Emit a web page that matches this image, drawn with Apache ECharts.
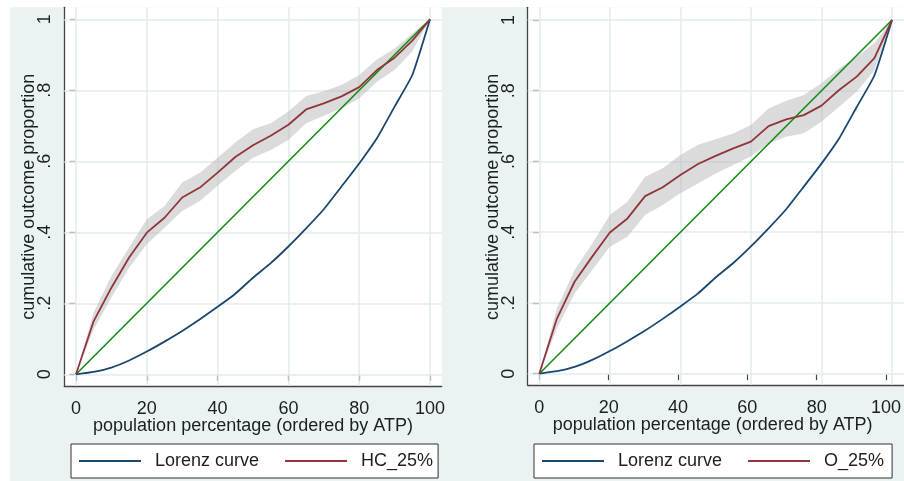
<!DOCTYPE html>
<html>
<head>
<meta charset="utf-8">
<script src="https://cdn.jsdelivr.net/npm/echarts@6/dist/echarts.min.js"></script>
<style>
html,body{margin:0;padding:0;background:#fff;}
#chart{width:904px;height:481px;}
</style>
</head>
<body>
<div id="chart"></div>
<script>
// ---- data ----
const xTicks = [0, 20, 40, 60, 80, 100];
const yTicks = [0, 0.2, 0.4, 0.6, 0.8, 1];
const pop = [0,5,10,15,20,25,30,35,40,45,50,55,60,65,70,75,80,85,90,95,100];
const lorenz = [0,0.007,0.019,0.039,0.064,0.092,0.122,0.155,0.190,0.227,0.272,0.313,0.360,0.411,0.465,0.529,0.594,0.665,0.754,0.843,1];
const equalityX = [0, 100];
const equalityY = [0, 1];

const hcMean  = [0,0.150,0.244,0.329,0.399,0.441,0.498,0.526,0.568,0.612,0.645,0.672,0.703,0.746,0.763,0.783,0.809,0.857,0.892,0.940,1];
const hcUpper = [0,0.174,0.277,0.357,0.437,0.474,0.540,0.568,0.610,0.653,0.690,0.707,0.740,0.784,0.797,0.815,0.843,0.887,0.918,0.960,1];
const hcLower = [0,0.127,0.216,0.300,0.366,0.413,0.460,0.488,0.531,0.573,0.610,0.632,0.660,0.707,0.728,0.749,0.777,0.824,0.857,0.909,1];

const oMean  = [0,0.156,0.260,0.331,0.399,0.439,0.502,0.527,0.562,0.593,0.616,0.637,0.656,0.700,0.719,0.731,0.758,0.802,0.840,0.892,1];
const oUpper = [0,0.185,0.293,0.368,0.449,0.486,0.557,0.581,0.618,0.647,0.663,0.679,0.703,0.750,0.772,0.788,0.821,0.863,0.896,0.934,1];
const oLower = [0,0.128,0.227,0.293,0.359,0.387,0.449,0.477,0.510,0.538,0.566,0.590,0.614,0.651,0.670,0.680,0.712,0.755,0.797,0.858,1];

const xTitle = 'population percentage (ordered by ATP)';
const yTitle = 'cumulative outcome proportion';
const lorenzName = 'Lorenz curve';
const names = ['HC_25%', 'O_25%'];

// ---- styles / layout ----
const FONT = '"Liberation Sans", Arial, Helvetica, sans-serif';
const NAVY = '#1a476f', MAROON = '#90353b', GREEN = '#168a16';
const BAND = 'rgba(175,175,175,0.45)';
const GRIDC = '#e3ebee';
const AXISC = '#444';
const TXT = '#1e1e1e';

const panels = [
  {A:{left:64.3, top:7.3, width:377.4, height:378.7}, B:{left:76, top:19.3, width:354, height:355},
   mean:hcMean, upper:hcUpper, lower:hcLower, name:names[0], legendLeft:71, legendPad:[7,5,7,8]},
  {A:{left:527.7, top:7.3, width:376.6, height:377.7}, B:{left:539.3, top:20, width:353, height:353.7},
   mean:oMean, upper:oUpper, lower:oLower, name:names[1], legendLeft:534, legendPad:[7,8,7,8]}
];

const zip = (xs, ys) => xs.map((x, i) => [x, ys[i]]);
const yFmt = v => { const r = Math.round(v * 10) / 10; if (r === 0) return '0'; if (r === 1) return '1'; return String(r).replace(/^0/, ''); };

function bandRender(rows) {
  return function (params, api) {
    if (params.dataIndex !== 0) return null;
    const top = rows.map(r => api.coord([r[0], r[2]]));
    const bot = rows.map(r => api.coord([r[0], r[1]])).reverse();
    return {type:'polygon', shape:{points:top.concat(bot)}, style:{fill:BAND, stroke:'none'}, silent:true};
  };
}

const grid = [], xAxis = [], yAxis = [], series = [], legend = [];
panels.forEach((p, i) => {
  const A = p.A, B = p.B;
  grid.push({left:A.left, top:A.top, width:A.width, height:A.height, show:true, backgroundColor:'#fff', borderWidth:0});
  grid.push({left:B.left, top:B.top, width:B.width, height:B.height, show:false});
  const xMin = -(B.left - A.left) / B.width * 100;
  const xMax = 100 + ((A.left + A.width) - (B.left + B.width)) / B.width * 100;
  const yMin = -((A.top + A.height) - (B.top + B.height)) / B.height;
  const yMax = 1 + (B.top - A.top) / B.height;
  const gA = 2 * i, gB = 2 * i + 1;
  xAxis.push({gridIndex:gA, type:'value', min:xMin, max:xMax,
    axisLine:{show:true, onZero:false, lineStyle:{color:AXISC, width:1.3}},
    axisTick:{show:false}, axisLabel:{show:false}, splitLine:{show:false}});
  yAxis.push({gridIndex:gA, type:'value', min:yMin, max:yMax,
    axisLine:{show:true, onZero:false, lineStyle:{color:AXISC, width:1.3}},
    axisTick:{show:false}, axisLabel:{show:false}, splitLine:{show:false}});
  xAxis.push({gridIndex:gB, type:'value', min:0, max:100, interval:20,
    offset:(A.top + A.height) - (B.top + B.height),
    axisLine:{show:false}, axisTick:{show:true, length:6.5, lineStyle:{color:AXISC, width:1.2}},
    axisLabel:{fontSize:18, color:TXT, margin:14, fontFamily:FONT},
    splitLine:{show:false},
    name:xTitle, nameLocation:'middle', nameGap:31, nameMoveOverlap:false,
    nameTextStyle:{fontSize:18, color:TXT, fontFamily:FONT}});
  yAxis.push({gridIndex:gB, type:'value', min:0, max:1, interval:0.2,
    offset:B.left - A.left,
    axisLine:{show:false}, axisTick:{show:true, length:6.5, lineStyle:{color:AXISC, width:1.2}},
    axisLabel:{fontSize:18, color:TXT, margin:10, rotate:90, fontFamily:FONT, formatter:yFmt},
    splitLine:{show:false},
    name:yTitle, nameLocation:'middle', nameGap:26, nameMoveOverlap:false,
    nameTextStyle:{fontSize:18, color:TXT, fontFamily:FONT}});

  const ax = {xAxisIndex:gA, yAxisIndex:gA};
  series.push(Object.assign({type:'line', name:'equality ' + i, data:zip(equalityX, equalityY),
    symbol:'none', z:2, lineStyle:{color:GREEN, width:1.6}, silent:true,
    markLine:{silent:true, symbol:['none','none'], z:1, animation:false,
      label:{show:false}, lineStyle:{color:GRIDC, width:1.5, type:'solid'},
      emphasis:{disabled:true},
      data:[...xTicks.map(v => ({xAxis:v})), ...yTicks.map(v => ({yAxis:v}))]}}, ax));
  const rows = pop.map((x, k) => [x, p.lower[k], p.upper[k]]);
  series.push(Object.assign({type:'custom', name:'band ' + i, data:rows, z:2, silent:true,
    renderItem:bandRender(rows), encode:{x:0, y:[1, 2]}}, ax));
  series.push(Object.assign({type:'line', name:lorenzName, data:zip(pop, lorenz),
    symbol:'none', z:3, smooth:0.15, lineStyle:{color:NAVY, width:1.8}, itemStyle:{color:NAVY}}, ax));
  series.push(Object.assign({type:'line', name:p.name, data:zip(pop, p.mean),
    symbol:'none', z:3, lineStyle:{color:MAROON, width:1.8}, itemStyle:{color:MAROON}}, ax));

  legend.push({left:p.legendLeft, top:444, orient:'horizontal', data:[lorenzName, p.name],
    icon:'rect', itemWidth:62, itemHeight:2, itemGap:26,
    padding:p.legendPad, borderColor:'#333', borderWidth:1, backgroundColor:'#fff',
    selectedMode:false,
    textStyle:{fontSize:18, color:TXT, fontFamily:FONT, lineHeight:20, padding:[0,0,0,9]}});
});

const chart = echarts.init(document.getElementById('chart'), null, {renderer:'canvas'});
chart.setOption({
  backgroundColor:'#eaf2f3',
  animation:false,
  graphic:[
    {type:'rect', shape:{x:0, y:0, width:904, height:7.3}, style:{fill:'#fff'}, silent:true},
    {type:'rect', shape:{x:0, y:0, width:10, height:481}, style:{fill:'#fff'}, silent:true}
  ],
  grid, xAxis, yAxis, series, legend
});
</script>
</body>
</html>
